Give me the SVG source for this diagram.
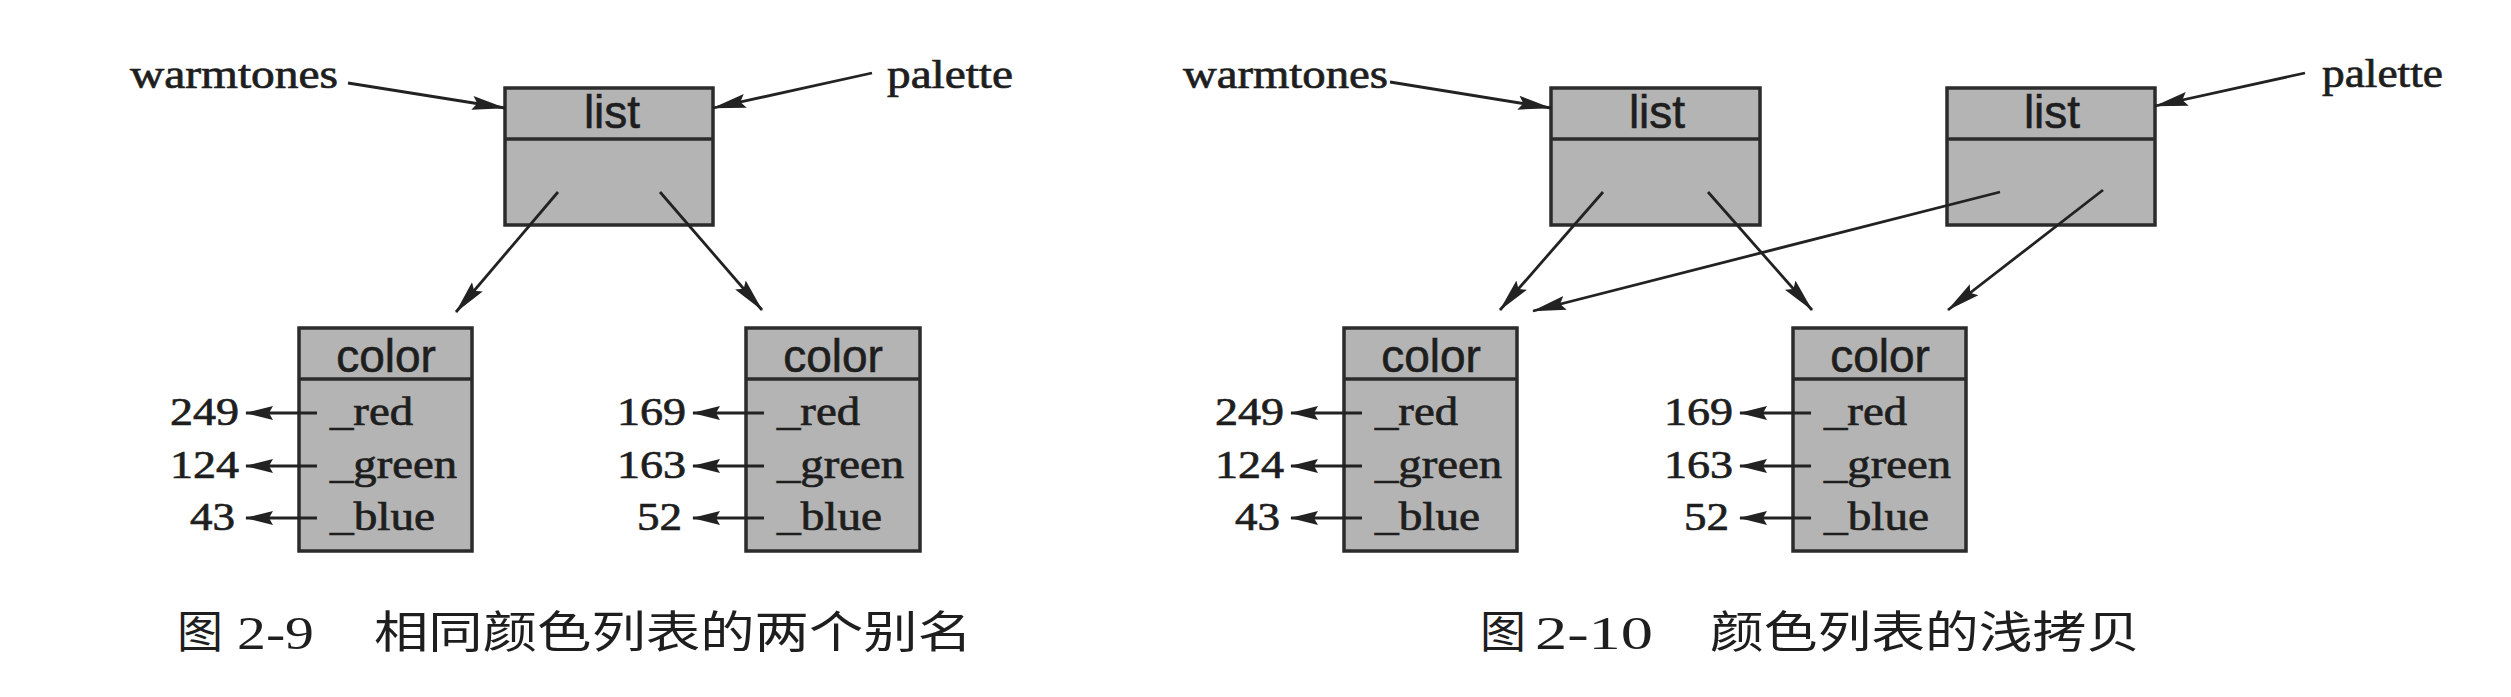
<svg xmlns="http://www.w3.org/2000/svg" width="2511" height="697" viewBox="0 0 2511 697">
<style>
.bg{fill:#ffffff}
.box{fill:#b4b4b4;stroke:#2b2b2b;stroke-width:3.5}
.div{stroke:#2b2b2b;stroke-width:3.5}
.sans{font-family:"Liberation Sans",Arial,sans-serif;font-size:46px;fill:#1e1e1e;stroke:#1e1e1e;stroke-width:0.6;text-anchor:middle}
.serif{font-family:"Liberation Serif","Times New Roman",serif;font-size:40px;fill:#1e1e1e;stroke:#1e1e1e;stroke-width:0.7}
.capd{font-family:"Liberation Serif","Times New Roman",serif;font-size:46px;fill:#1e1e1e}
.capc{font-family:"Noto Sans CJK SC","Noto Sans CJK TC",sans-serif;font-size:44px;fill:#1e1e1e}
.conn line{stroke:#222;stroke-width:2.8;marker-end:url(#ah)}
.fld line{stroke:#222;stroke-width:2.8;marker-end:url(#ah2)}
</style>
<defs>
<marker id="ah" markerUnits="userSpaceOnUse" markerWidth="34" markerHeight="16" viewBox="0 0 34 16" refX="33" refY="8" orient="auto">
<path d="M0,1 L34,8 L0,15 L5,8 Z" fill="#222"/>
</marker>
<marker id="ah2" markerUnits="userSpaceOnUse" markerWidth="28" markerHeight="16" viewBox="0 0 28 16" refX="27" refY="8" orient="auto">
<path d="M0,1 L28,8 L0,15 L4,8 Z" fill="#222"/>
</marker>
</defs>
<rect class="bg" x="0" y="0" width="2511" height="697"/>

<!-- ===== Figure 2-9 ===== -->
<g id="var-warmtones-a"><text class="serif" x="130" y="88" textLength="208" lengthAdjust="spacingAndGlyphs">warmtones</text></g>
<g id="var-palette-a"><text class="serif" x="887" y="88" textLength="126" lengthAdjust="spacingAndGlyphs">palette</text></g>
<g id="list-a">
<rect class="box" x="505" y="88" width="208" height="137"/>
<line class="div" x1="505" y1="139" x2="713" y2="139"/>
<text class="sans" x="612" y="128">list</text>
</g>
<g id="color-a1">
<rect class="box" x="299" y="328" width="173" height="223"/>
<line class="div" x1="299" y1="379" x2="472" y2="379"/>
<text class="sans" x="386" y="372">color</text>
<text class="serif" x="330" y="425" textLength="83" lengthAdjust="spacingAndGlyphs">_red</text>
<text class="serif" x="330" y="478" textLength="127" lengthAdjust="spacingAndGlyphs">_green</text>
<text class="serif" x="330" y="530" textLength="105" lengthAdjust="spacingAndGlyphs">_blue</text>
<text class="serif" x="170" y="425" textLength="69" lengthAdjust="spacingAndGlyphs">249</text>
<text class="serif" x="170" y="478" textLength="69" lengthAdjust="spacingAndGlyphs">124</text>
<text class="serif" x="190" y="530" textLength="45" lengthAdjust="spacingAndGlyphs">43</text>
</g>
<g id="color-a2">
<rect class="box" x="746" y="328" width="174" height="223"/>
<line class="div" x1="746" y1="379" x2="920" y2="379"/>
<text class="sans" x="833" y="372">color</text>
<text class="serif" x="777" y="425" textLength="83" lengthAdjust="spacingAndGlyphs">_red</text>
<text class="serif" x="777" y="478" textLength="127" lengthAdjust="spacingAndGlyphs">_green</text>
<text class="serif" x="777" y="530" textLength="105" lengthAdjust="spacingAndGlyphs">_blue</text>
<text class="serif" x="617" y="425" textLength="69" lengthAdjust="spacingAndGlyphs">169</text>
<text class="serif" x="617" y="478" textLength="69" lengthAdjust="spacingAndGlyphs">163</text>
<text class="serif" x="637" y="530" textLength="45" lengthAdjust="spacingAndGlyphs">52</text>
</g>
<g id="caption-a">
<text class="capc" x="177" y="648" textLength="46" lengthAdjust="spacingAndGlyphs">图</text>
<text class="capd" x="237" y="649" textLength="77" lengthAdjust="spacingAndGlyphs">2-9</text>
<text class="capc" x="374" y="648" textLength="598" lengthAdjust="spacingAndGlyphs">相同颜色列表的两个别名</text>
</g>

<!-- ===== Figure 2-10 ===== -->
<g id="var-warmtones-b"><text class="serif" x="1183" y="88" textLength="205" lengthAdjust="spacingAndGlyphs">warmtones</text></g>
<g id="var-palette-b"><text class="serif" x="2322" y="87" textLength="121" lengthAdjust="spacingAndGlyphs">palette</text></g>
<g id="list-b1">
<rect class="box" x="1551" y="88" width="209" height="137"/>
<line class="div" x1="1551" y1="139" x2="1760" y2="139"/>
<text class="sans" x="1657" y="128">list</text>
</g>
<g id="list-b2">
<rect class="box" x="1947" y="88" width="208" height="137"/>
<line class="div" x1="1947" y1="139" x2="2155" y2="139"/>
<text class="sans" x="2052" y="128">list</text>
</g>
<g id="color-b1">
<rect class="box" x="1344" y="328" width="173" height="223"/>
<line class="div" x1="1344" y1="379" x2="1517" y2="379"/>
<text class="sans" x="1431" y="372">color</text>
<text class="serif" x="1375" y="425" textLength="83" lengthAdjust="spacingAndGlyphs">_red</text>
<text class="serif" x="1375" y="478" textLength="127" lengthAdjust="spacingAndGlyphs">_green</text>
<text class="serif" x="1375" y="530" textLength="105" lengthAdjust="spacingAndGlyphs">_blue</text>
<text class="serif" x="1215" y="425" textLength="69" lengthAdjust="spacingAndGlyphs">249</text>
<text class="serif" x="1215" y="478" textLength="69" lengthAdjust="spacingAndGlyphs">124</text>
<text class="serif" x="1235" y="530" textLength="45" lengthAdjust="spacingAndGlyphs">43</text>
</g>
<g id="color-b2">
<rect class="box" x="1793" y="328" width="173" height="223"/>
<line class="div" x1="1793" y1="379" x2="1966" y2="379"/>
<text class="sans" x="1880" y="372">color</text>
<text class="serif" x="1824" y="425" textLength="83" lengthAdjust="spacingAndGlyphs">_red</text>
<text class="serif" x="1824" y="478" textLength="127" lengthAdjust="spacingAndGlyphs">_green</text>
<text class="serif" x="1824" y="530" textLength="105" lengthAdjust="spacingAndGlyphs">_blue</text>
<text class="serif" x="1664" y="425" textLength="69" lengthAdjust="spacingAndGlyphs">169</text>
<text class="serif" x="1664" y="478" textLength="69" lengthAdjust="spacingAndGlyphs">163</text>
<text class="serif" x="1684" y="530" textLength="45" lengthAdjust="spacingAndGlyphs">52</text>
</g>
<g id="caption-b">
<text class="capc" x="1480" y="648" textLength="46" lengthAdjust="spacingAndGlyphs">图</text>
<text class="capd" x="1535" y="649" textLength="118" lengthAdjust="spacingAndGlyphs">2-10</text>
<text class="capc" x="1710" y="648" textLength="430" lengthAdjust="spacingAndGlyphs">颜色列表的浅拷贝</text>
</g>

<!-- ===== Connectors ===== -->
<g id="connectors">
<g class="conn">
<line x1="348" y1="83" x2="505" y2="108"/>
<line x1="872" y1="73" x2="713" y2="108"/>
<line x1="558" y1="192" x2="456" y2="312"/>
<line x1="660" y1="192" x2="762" y2="310"/>
<line x1="1390" y1="82" x2="1551" y2="108"/>
<line x1="2305" y1="73" x2="2155" y2="106"/>
<line x1="1603" y1="192" x2="1500" y2="310"/>
<line x1="1708" y1="192" x2="1812" y2="310"/>
<line x1="2000" y1="192" x2="1533" y2="311"/>
<line x1="2103" y1="190" x2="1948" y2="310"/>
</g>
<g class="fld">
<line x1="317" y1="413" x2="246" y2="413"/>
<line x1="317" y1="466" x2="246" y2="466"/>
<line x1="317" y1="518" x2="246" y2="518"/>
<line x1="764" y1="413" x2="693" y2="413"/>
<line x1="764" y1="466" x2="693" y2="466"/>
<line x1="764" y1="518" x2="693" y2="518"/>
<line x1="1362" y1="413" x2="1291" y2="413"/>
<line x1="1362" y1="466" x2="1291" y2="466"/>
<line x1="1362" y1="518" x2="1291" y2="518"/>
<line x1="1811" y1="413" x2="1740" y2="413"/>
<line x1="1811" y1="466" x2="1740" y2="466"/>
<line x1="1811" y1="518" x2="1740" y2="518"/>
</g>
</g>
</svg>
